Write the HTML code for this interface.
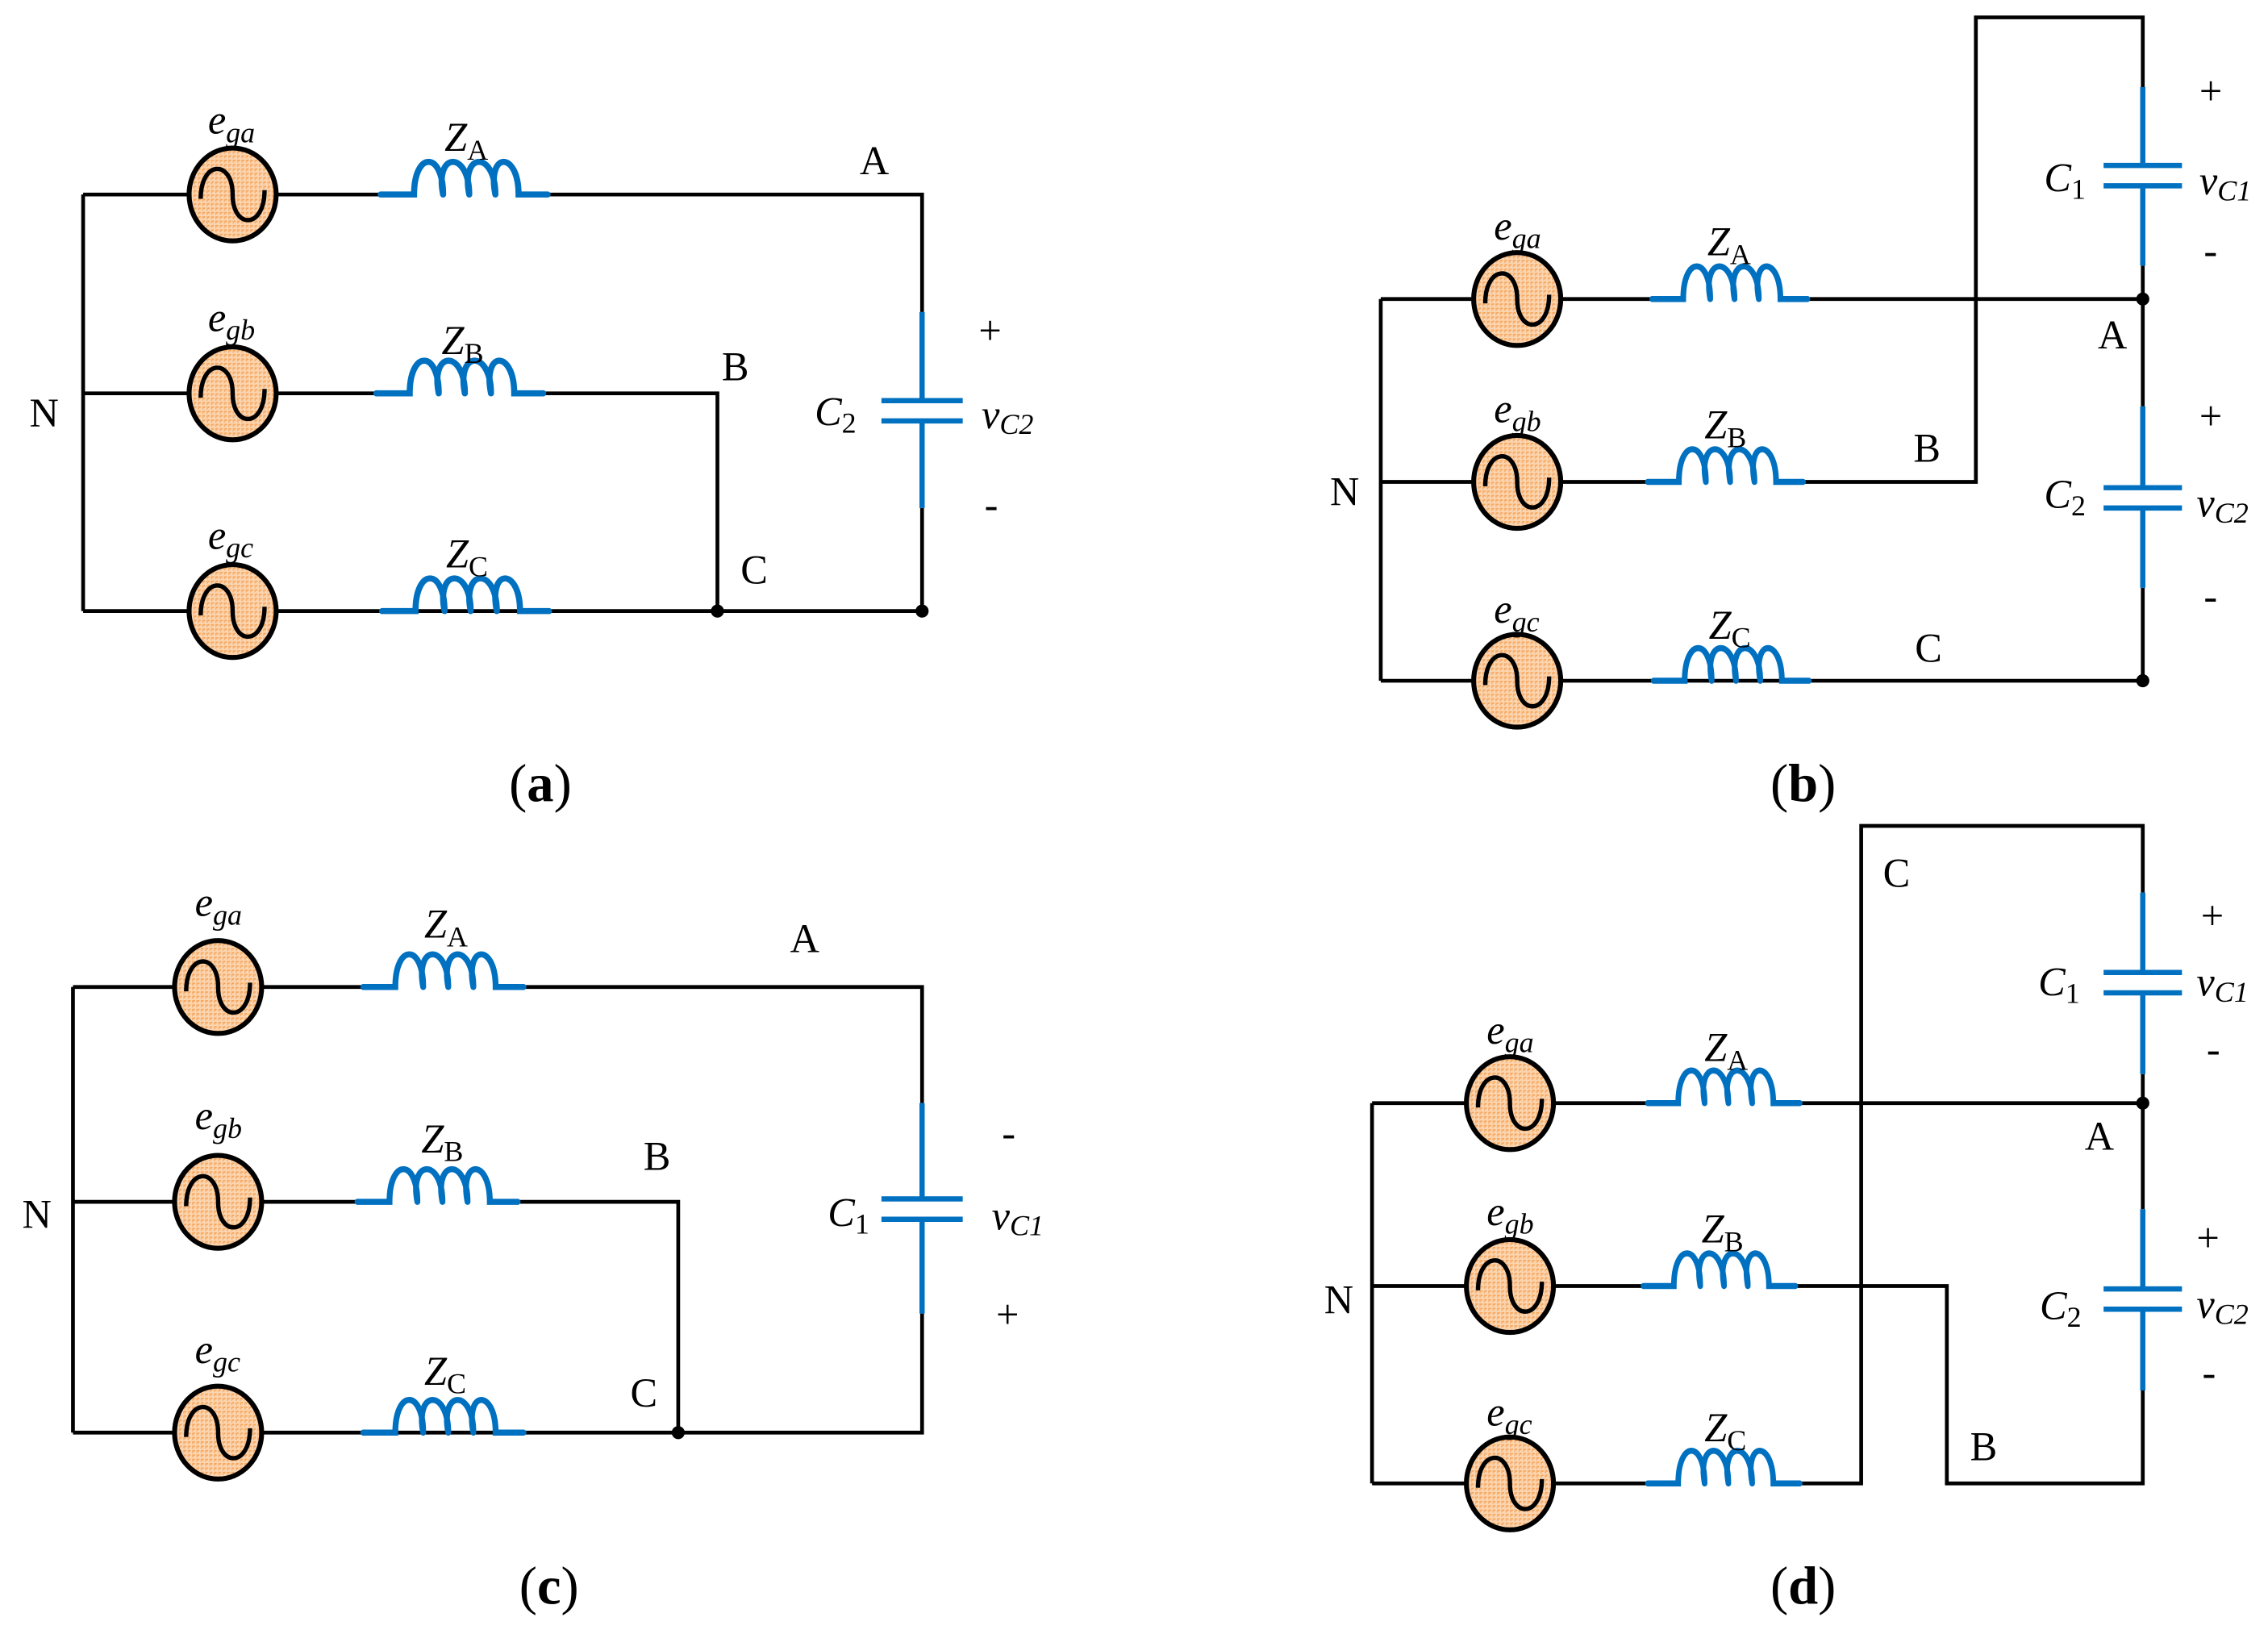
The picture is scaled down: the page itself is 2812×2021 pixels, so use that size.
<!DOCTYPE html>
<html><head><meta charset="utf-8"><style>
html,body{margin:0;padding:0;background:#fff}
svg{display:block}
text{font-family:"Liberation Serif",serif;fill:#000}
.w{stroke:#000;stroke-width:2.6;fill:none}
.b{stroke:#0070c0;stroke-width:3.6;fill:none}
.bl{stroke:#0070c0;stroke-width:4.2;fill:none;stroke-linecap:round}
.lab{font-size:28px}
.sub{font-size:20px}
.cap{font-size:37px}
</style></head><body>
<svg width="2812" height="2021" viewBox="0 0 1562 1123" xmlns="http://www.w3.org/2000/svg">
<defs>
<pattern id="p" width="3" height="3" patternUnits="userSpaceOnUse">
<rect width="3" height="3" fill="#fbd5b0"/><rect width="2" height="1" fill="#f5a050"/><rect width="1" height="2" fill="#f7b070"/>
</pattern>
<g id="src">
<ellipse cx="0" cy="0" rx="30" ry="32" fill="url(#p)" stroke="#000" stroke-width="3.4"/>
<path d="M-22,3 C-22,-24 0,-24 0,0 C0,24 22,24 22,-3" stroke="#000" stroke-width="3" fill="none"/>
</g>
<g id="ind">
<path class="bl" d="M0,0 H23 C23,-30 43,-30 43,0 M43,0 C37,-30 61,-30 61,0 M61,0 C55,-30 79,-30 79,0 M79,0 C73,-30 95,-30 95,0 H115"/>
</g>
</defs>

<!-- Panel (a) -->
<path class="w" d="M57,134 V421 M57,134 H262 M378,134 H635 V215 M635,350 V421 H57 M57,271 H258 M375,271 H494 V421"/>
<use href="#src" x="160" y="134"/><use href="#src" x="160" y="271"/><use href="#src" x="160" y="421"/>
<use href="#ind" x="262" y="134"/><use href="#ind" x="259" y="271"/><use href="#ind" x="263" y="421"/>
<path class="b" d="M635,215 V276 M635,290 V350 M607,276 H663 M607,290 H663"/>
<circle cx="494" cy="421" r="4.5"/><circle cx="635" cy="421" r="4.5"/>
<text class="lab" x="143" y="92" font-style="italic">e<tspan class="sub" dy="6">ga</tspan></text>
<text class="lab" x="143" y="228" font-style="italic">e<tspan class="sub" dy="6">gb</tspan></text>
<text class="lab" x="143" y="378" font-style="italic">e<tspan class="sub" dy="6">gc</tspan></text>
<text class="lab" x="306" y="104" font-style="italic">Z<tspan class="sub" dy="6" font-style="normal">A</tspan></text>
<text class="lab" x="304" y="244" font-style="italic">Z<tspan class="sub" dy="6" font-style="normal">B</tspan></text>
<text class="lab" x="307" y="391" font-style="italic">Z<tspan class="sub" dy="6" font-style="normal">C</tspan></text>
<text class="lab" x="592" y="120">A</text>
<text class="lab" x="497" y="262">B</text>
<text class="lab" x="510" y="402">C</text>
<text class="lab" x="20" y="294">N</text>
<text class="lab" x="674" y="237">+</text>
<text class="lab" x="678" y="357">-</text>
<text class="lab" x="561" y="293" font-style="italic">C<tspan class="sub" dy="5" font-style="normal">2</tspan></text>
<text class="lab" x="676" y="295" font-style="italic">v<tspan class="sub" dy="4">C</tspan><tspan class="sub">2</tspan></text>
<text class="cap" x="372" y="552" text-anchor="middle">(<tspan font-weight="bold">a</tspan>)</text>

<!-- Panel (b) -->
<path class="w" d="M951,206 V469 M951,206 H1138 M1245,206 H1476 M951,332 H1136 M1242,332 H1361 V12 H1476 V60 M1476,183 V280 M1476,405 V469 H951"/>
<use href="#src" x="1045" y="206"/><use href="#src" x="1045" y="332"/><use href="#src" x="1045" y="469"/>
<g transform="translate(1138,206) scale(0.93,1)"><use href="#ind"/></g>
<g transform="translate(1135,332) scale(0.93,1)"><use href="#ind"/></g>
<g transform="translate(1139,469) scale(0.93,1)"><use href="#ind"/></g>
<path class="b" d="M1476,60 V114 M1476,128 V183 M1449,114 H1503 M1449,128 H1503 M1476,280 V336 M1476,350 V405 M1449,336 H1503 M1449,350 H1503"/>
<circle cx="1476" cy="206" r="4.5"/><circle cx="1476" cy="469" r="4.5"/>
<text class="lab" x="1029" y="165" font-style="italic">e<tspan class="sub" dy="6">ga</tspan></text>
<text class="lab" x="1029" y="291" font-style="italic">e<tspan class="sub" dy="6">gb</tspan></text>
<text class="lab" x="1029" y="429" font-style="italic">e<tspan class="sub" dy="6">gc</tspan></text>
<text class="lab" x="1176" y="176" font-style="italic">Z<tspan class="sub" dy="6" font-style="normal">A</tspan></text>
<text class="lab" x="1174" y="302" font-style="italic">Z<tspan class="sub" dy="6" font-style="normal">B</tspan></text>
<text class="lab" x="1177" y="440" font-style="italic">Z<tspan class="sub" dy="6" font-style="normal">C</tspan></text>
<text class="lab" x="1445" y="240">A</text>
<text class="lab" x="1318" y="318">B</text>
<text class="lab" x="1319" y="456">C</text>
<text class="lab" x="916" y="348">N</text>
<text class="lab" x="1515" y="72">+</text>
<text class="lab" x="1518" y="182">-</text>
<text class="lab" x="1515" y="296">+</text>
<text class="lab" x="1518" y="420">-</text>
<text class="lab" x="1408" y="132" font-style="italic">C<tspan class="sub" dy="5" font-style="normal">1</tspan></text>
<text class="lab" x="1408" y="350" font-style="italic">C<tspan class="sub" dy="5" font-style="normal">2</tspan></text>
<text class="lab" x="1515" y="134" font-style="italic">v<tspan class="sub" dy="4">C</tspan><tspan class="sub">1</tspan></text>
<text class="lab" x="1513" y="356" font-style="italic">v<tspan class="sub" dy="4">C</tspan><tspan class="sub">2</tspan></text>
<text class="cap" x="1242" y="552" text-anchor="middle">(<tspan font-weight="bold">b</tspan>)</text>

<!-- Panel (c) -->
<path class="w" d="M50,680 V987 M50,680 H250 M360,680 H635 V760 M635,905 V987 H50 M50,828 H246 M358,828 H467 V987"/>
<use href="#src" x="150" y="680"/><use href="#src" x="150" y="828"/><use href="#src" x="150" y="987"/>
<g transform="translate(250,680) scale(0.96,1)"><use href="#ind"/></g>
<g transform="translate(246,828) scale(0.96,1)"><use href="#ind"/></g>
<g transform="translate(250,987) scale(0.96,1)"><use href="#ind"/></g>
<path class="b" d="M635,760 V826 M635,840 V905 M607,826 H663 M607,840 H663"/>
<circle cx="467" cy="987" r="4.5"/>
<text class="lab" x="134" y="631" font-style="italic">e<tspan class="sub" dy="6">ga</tspan></text>
<text class="lab" x="134" y="778" font-style="italic">e<tspan class="sub" dy="6">gb</tspan></text>
<text class="lab" x="134" y="939" font-style="italic">e<tspan class="sub" dy="6">gc</tspan></text>
<text class="lab" x="292" y="646" font-style="italic">Z<tspan class="sub" dy="6" font-style="normal">A</tspan></text>
<text class="lab" x="290" y="794" font-style="italic">Z<tspan class="sub" dy="6" font-style="normal">B</tspan></text>
<text class="lab" x="292" y="954" font-style="italic">Z<tspan class="sub" dy="6" font-style="normal">C</tspan></text>
<text class="lab" x="544" y="656">A</text>
<text class="lab" x="443" y="806">B</text>
<text class="lab" x="434" y="969">C</text>
<text class="lab" x="15" y="846">N</text>
<text class="lab" x="690" y="790">-</text>
<text class="lab" x="686" y="915">+</text>
<text class="lab" x="570" y="845" font-style="italic">C<tspan class="sub" dy="5" font-style="normal">1</tspan></text>
<text class="lab" x="683" y="847" font-style="italic">v<tspan class="sub" dy="4">C</tspan><tspan class="sub">1</tspan></text>
<text class="cap" x="378" y="1105" text-anchor="middle">(<tspan font-weight="bold">c</tspan>)</text>

<!-- Panel (d) -->
<path class="w" d="M945,760 V1022 M945,760 H1135 M1240,760 H1476 M945,886 H1132 M1237,886 H1341 V1022 H1476 V958 M1476,833 V760 M945,1022 H1135 M1240,1022 H1282 V569 H1476 V615 M1476,740 V760"/>
<use href="#src" x="1040" y="760"/><use href="#src" x="1040" y="886"/><use href="#src" x="1040" y="1022"/>
<g transform="translate(1135,760) scale(0.91,1)"><use href="#ind"/></g>
<g transform="translate(1132,886) scale(0.91,1)"><use href="#ind"/></g>
<g transform="translate(1135,1022) scale(0.91,1)"><use href="#ind"/></g>
<path class="b" d="M1476,615 V670 M1476,684 V740 M1449,670 H1503 M1449,684 H1503 M1476,833 V888 M1476,902 V958 M1449,888 H1503 M1449,902 H1503"/>
<circle cx="1476" cy="760" r="4.5"/>
<text class="lab" x="1024" y="719" font-style="italic">e<tspan class="sub" dy="6">ga</tspan></text>
<text class="lab" x="1024" y="844" font-style="italic">e<tspan class="sub" dy="6">gb</tspan></text>
<text class="lab" x="1024" y="982" font-style="italic">e<tspan class="sub" dy="6">gc</tspan></text>
<text class="lab" x="1174" y="731" font-style="italic">Z<tspan class="sub" dy="6" font-style="normal">A</tspan></text>
<text class="lab" x="1172" y="856" font-style="italic">Z<tspan class="sub" dy="6" font-style="normal">B</tspan></text>
<text class="lab" x="1174" y="993" font-style="italic">Z<tspan class="sub" dy="6" font-style="normal">C</tspan></text>
<text class="lab" x="1436" y="792">A</text>
<text class="lab" x="1357" y="1006">B</text>
<text class="lab" x="1297" y="611">C</text>
<text class="lab" x="912" y="905">N</text>
<text class="lab" x="1516" y="640">+</text>
<text class="lab" x="1520" y="732">-</text>
<text class="lab" x="1513" y="862">+</text>
<text class="lab" x="1517" y="955">-</text>
<text class="lab" x="1404" y="686" font-style="italic">C<tspan class="sub" dy="5" font-style="normal">1</tspan></text>
<text class="lab" x="1405" y="909" font-style="italic">C<tspan class="sub" dy="5" font-style="normal">2</tspan></text>
<text class="lab" x="1513" y="686" font-style="italic">v<tspan class="sub" dy="4">C</tspan><tspan class="sub">1</tspan></text>
<text class="lab" x="1513" y="908" font-style="italic">v<tspan class="sub" dy="4">C</tspan><tspan class="sub">2</tspan></text>
<text class="cap" x="1242" y="1105" text-anchor="middle">(<tspan font-weight="bold">d</tspan>)</text>
</svg>
</body></html>
